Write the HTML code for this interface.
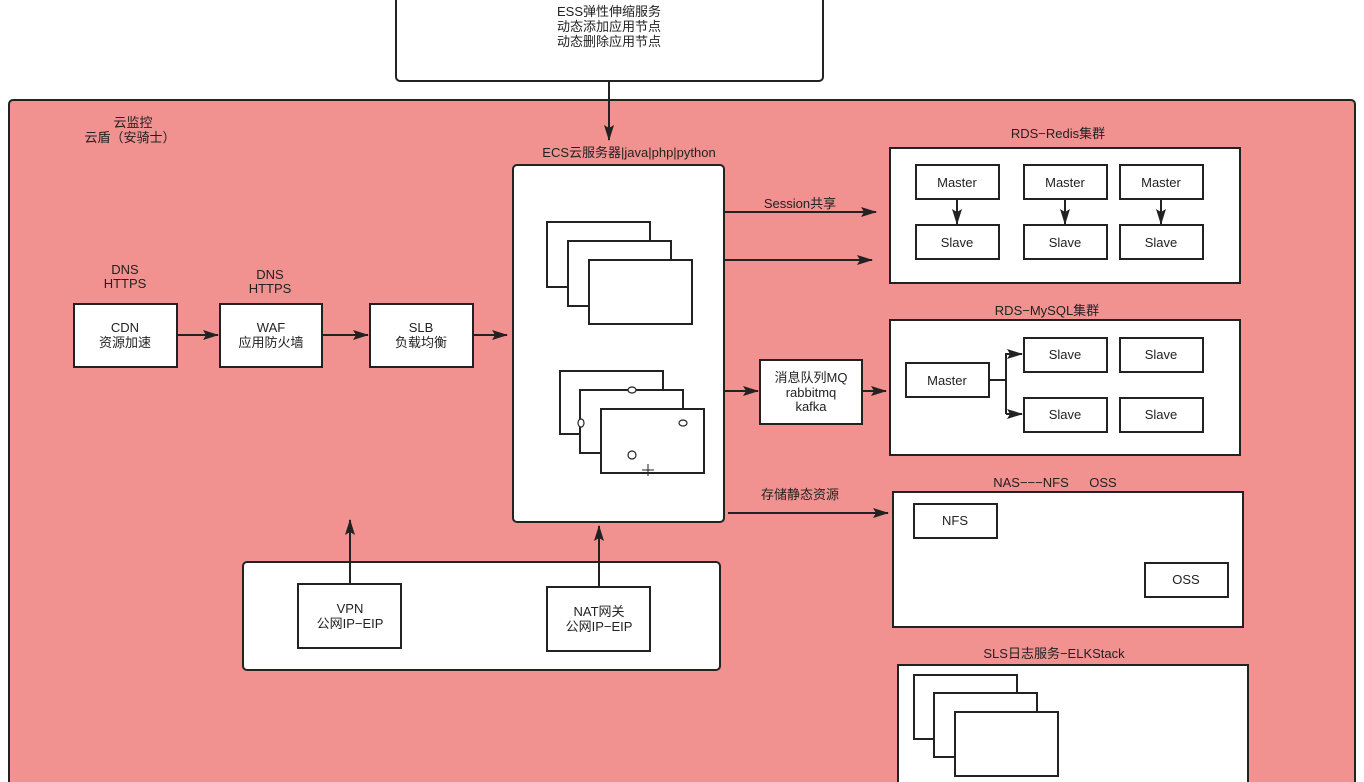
<!DOCTYPE html>
<html><head><meta charset="utf-8"><style>
html,body{margin:0;padding:0;background:#fff;width:1364px;height:782px;overflow:hidden}
svg text{font-family:"Liberation Sans","Noto Sans CJK SC",sans-serif;font-size:13px;fill:#222;text-anchor:middle}
</style></head><body>
<svg width="1364" height="782" viewBox="0 0 1364 782" xmlns="http://www.w3.org/2000/svg">
<defs><marker id="a" markerWidth="16" markerHeight="12" refX="15" refY="6" orient="auto" markerUnits="userSpaceOnUse"><path d="M0,1 L16,6 L0,11 L3,6 Z" fill="#222"/></marker></defs>
<g stroke="#222" stroke-width="2" fill="#fff">
<rect x="396" y="-6" width="427" height="87" rx="4"/>
<rect x="9" y="100" width="1346" height="700" rx="4" fill="#f19190"/>
<rect x="513" y="165" width="211" height="357" rx="4"/>
<rect x="74" y="304" width="103" height="63"/>
<rect x="220" y="304" width="102" height="63"/>
<rect x="370" y="304" width="103" height="63"/>
<rect x="547" y="222" width="103" height="65"/>
<rect x="568" y="241" width="103" height="65"/>
<rect x="589" y="260" width="103" height="64"/>
<rect x="560" y="371" width="103" height="63"/>
<rect x="580" y="390" width="103" height="63"/>
<rect x="601" y="409" width="103" height="64"/>
<rect x="760" y="360" width="102" height="64"/>
<rect x="890" y="148" width="350" height="135"/>
<rect x="916" y="165" width="83" height="34"/>
<rect x="1024" y="165" width="83" height="34"/>
<rect x="1120" y="165" width="83" height="34"/>
<rect x="916" y="225" width="83" height="34"/>
<rect x="1024" y="225" width="83" height="34"/>
<rect x="1120" y="225" width="83" height="34"/>
<rect x="890" y="320" width="350" height="135"/>
<rect x="906" y="363" width="83" height="34"/>
<rect x="1024" y="338" width="83" height="34"/>
<rect x="1120" y="338" width="83" height="34"/>
<rect x="1024" y="398" width="83" height="34"/>
<rect x="1120" y="398" width="83" height="34"/>
<rect x="893" y="492" width="350" height="135"/>
<rect x="914" y="504" width="83" height="34"/>
<rect x="1145" y="563" width="83" height="34"/>
<rect x="898" y="665" width="350" height="140"/>
<rect x="914" y="675" width="103" height="64"/>
<rect x="934" y="693" width="103" height="64"/>
<rect x="955" y="712" width="103" height="64"/>
<rect x="243" y="562" width="477" height="108" rx="4"/>
<rect x="298" y="584" width="103" height="64"/>
<rect x="547" y="587" width="103" height="64"/>
<ellipse cx="632" cy="390" rx="4" ry="3" stroke-width="1.2"/>
<ellipse cx="581" cy="423" rx="3" ry="4" stroke-width="1.2"/>
<ellipse cx="683" cy="423" rx="4" ry="3" stroke-width="1.2"/>
<ellipse cx="632" cy="455" rx="4" ry="4" stroke-width="1.2"/>
</g>
<g stroke="#222" stroke-width="2" fill="none">
<line x1="609" y1="82" x2="609" y2="140" marker-end="url(#a)"/>
<line x1="177" y1="335" x2="218" y2="335" marker-end="url(#a)"/>
<line x1="322" y1="335" x2="368" y2="335" marker-end="url(#a)"/>
<line x1="473" y1="335" x2="507" y2="335" marker-end="url(#a)"/>
<line x1="724" y1="212" x2="876" y2="212" marker-end="url(#a)"/>
<line x1="724" y1="260" x2="872" y2="260" marker-end="url(#a)"/>
<line x1="724" y1="391" x2="758" y2="391" marker-end="url(#a)"/>
<line x1="862" y1="391" x2="886" y2="391" marker-end="url(#a)"/>
<line x1="728" y1="513" x2="888" y2="513" marker-end="url(#a)"/>
<line x1="350" y1="584" x2="350" y2="520" marker-end="url(#a)"/>
<line x1="599" y1="587" x2="599" y2="526" marker-end="url(#a)"/>
<line x1="957" y1="199" x2="957" y2="224" marker-end="url(#a)"/>
<line x1="1065" y1="199" x2="1065" y2="224" marker-end="url(#a)"/>
<line x1="1161" y1="199" x2="1161" y2="224" marker-end="url(#a)"/>
<line x1="989" y1="380" x2="1006" y2="380"/>
<polyline points="1006,414 1006,354 1022,354" marker-end="url(#a)"/>
<line x1="1006" y1="414" x2="1022" y2="414" marker-end="url(#a)"/>
<line x1="642" y1="470" x2="654" y2="470" stroke-width="1"/>
<line x1="648" y1="464" x2="648" y2="476" stroke-width="1"/>
</g>
<text x="609" y="16">ESS弹性伸缩服务</text>
<text x="609" y="31">动态添加应用节点</text>
<text x="609" y="46">动态删除应用节点</text>
<text x="133" y="127">云监控</text>
<text x="130" y="142">云盾（安骑士）</text>
<text x="629" y="157">ECS云服务器|java|php|python</text>
<text x="125" y="274">DNS</text><text x="125" y="288">HTTPS</text>
<text x="270" y="279">DNS</text><text x="270" y="293">HTTPS</text>
<text x="125" y="332">CDN</text><text x="125" y="347">资源加速</text>
<text x="271" y="332">WAF</text><text x="271" y="347">应用防火墙</text>
<text x="421" y="332">SLB</text><text x="421" y="347">负载均衡</text>
<text x="800" y="208">Session共享</text>
<text x="811" y="382">消息队列MQ</text>
<text x="811" y="397">rabbitmq</text>
<text x="811" y="411">kafka</text>
<text x="800" y="499">存储静态资源</text>
<text x="1058" y="138">RDS−Redis集群</text>
<text x="957" y="187">Master</text><text x="1065" y="187">Master</text><text x="1161" y="187">Master</text>
<text x="957" y="247">Slave</text><text x="1065" y="247">Slave</text><text x="1161" y="247">Slave</text>
<text x="1047" y="315">RDS−MySQL集群</text>
<text x="947" y="385">Master</text>
<text x="1065" y="359">Slave</text><text x="1161" y="359">Slave</text>
<text x="1065" y="419">Slave</text><text x="1161" y="419">Slave</text>
<text x="1031" y="487">NAS−−−NFS</text><text x="1103" y="487">OSS</text>
<text x="955" y="525">NFS</text>
<text x="1186" y="584">OSS</text>
<text x="1054" y="658">SLS日志服务−ELKStack</text>
<text x="350" y="613">VPN</text><text x="350" y="628">公网IP−EIP</text>
<text x="599" y="616">NAT网关</text><text x="599" y="631">公网IP−EIP</text>
</svg>
</body></html>
